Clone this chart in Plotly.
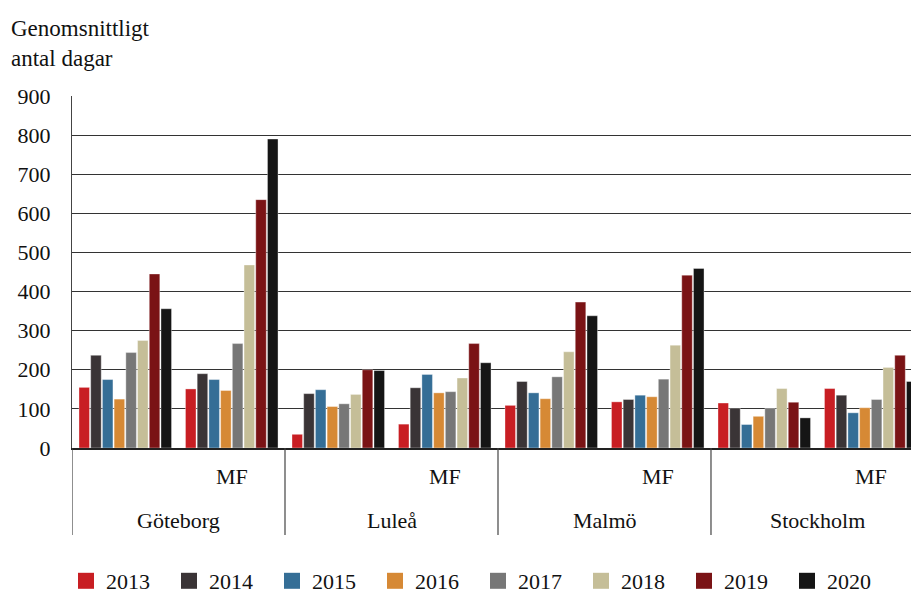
import plotly.graph_objects as go

cities = ["Göteborg", "Luleå", "Malmö", "Stockholm"]
subgroups = ["", "MF"]
years = ["2013", "2014", "2015", "2016", "2017", "2018", "2019", "2020"]
colors = ["#c81e23", "#3a3436", "#356e96", "#d68935", "#777777", "#c5be98", "#7a1315", "#151515"]

# values per year, order: Göteborg, Göteborg MF, Luleå, Luleå MF, Malmö, Malmö MF, Stockholm, Stockholm MF
v2013 = [155, 151, 35, 61, 109, 118, 115, 152]
v2014 = [237, 190, 139, 154, 170, 124, 102, 135]
v2015 = [175, 175, 149, 188, 141, 135, 60, 90]
v2016 = [125, 147, 106, 141, 126, 131, 81, 103]
v2017 = [244, 267, 113, 144, 182, 176, 101, 124]
v2018 = [275, 468, 137, 179, 246, 263, 152, 206]
v2019 = [445, 635, 200, 267, 373, 442, 117, 237]
v2020 = [356, 790, 198, 218, 338, 459, 77, 170]
values = [v2013, v2014, v2015, v2016, v2017, v2018, v2019, v2020]

FONT = "Liberation Serif"
TXT = "#111111"
n_cat = len(cities) * len(subgroups)
xpos = list(range(n_cat))

fig = go.Figure()
for yr, col, vals in zip(years, colors, values):
    fig.add_trace(go.Bar(
        x=xpos, y=vals, name=yr, showlegend=False, legendgroup=yr,
        marker=dict(color=col, line=dict(color="rgba(255,255,255,0.6)", width=0.6)),
    ))
# legend entries with larger square symbols
for yr, col in zip(years, colors):
    fig.add_trace(go.Scatter(
        x=[None], y=[None], mode="markers", name=yr, legendgroup=yr,
        marker=dict(symbol="square", size=16, color=col),
    ))

annotations = []
shapes = []
for i, city in enumerate(cities):
    base = i * len(subgroups)
    for j, sg in enumerate(subgroups):
        if sg:
            annotations.append(dict(x=base + j, y=-(477 - 448) / 352, xref="x", yref="paper",
                                    xanchor="center", yanchor="middle",
                                    text=sg, showarrow=False, font=dict(size=22, family=FONT, color=TXT)))
    annotations.append(dict(x=base + (len(subgroups) - 1) / 2, y=-(520 - 448) / 352, xref="x", yref="paper",
                            xanchor="center", yanchor="middle",
                            text=city, showarrow=False, font=dict(size=22, family=FONT, color=TXT)))
    shapes.append(dict(type="line", xref="x", yref="paper", x0=base - 0.5, x1=base - 0.5,
                       y0=0, y1=-(535 - 448) / 352, line=dict(color="#444", width=1.2)))

annotations.append(dict(x=(9 - 72) / 839, y=1 + (96 - 14) / 352, xref="paper", yref="paper",
                        text="Genomsnittligt<br>antal dagar", showarrow=False,
                        xanchor="left", yanchor="top", align="left",
                        font=dict(size=23, family=FONT, color=TXT)))

fig.update_layout(
    width=911, height=595,
    margin=dict(l=72, r=0, t=96, b=147),
    paper_bgcolor="white", plot_bgcolor="white",
    barmode="group", bargap=0.12, bargroupgap=0.1,
    font=dict(family=FONT, size=22, color=TXT),
    xaxis=dict(range=[-0.5, 7.378], showticklabels=False, showgrid=False, zeroline=False,
               showline=True, linecolor="#222", linewidth=1.5, ticks=""),
    yaxis=dict(range=[0, 900], dtick=100, showgrid=True, gridcolor="#333333", gridwidth=1.3,
               zeroline=False, showline=True, linecolor="#444", linewidth=1.2,
               ticks="outside", ticklen=16, tickcolor="rgba(0,0,0,0)",
               tickfont=dict(size=22, family=FONT, color=TXT)),
    showlegend=True,
    legend=dict(orientation="h", xref="container", yref="container",
                x=66 / 911, y=(595 - 581) / 595, xanchor="left", yanchor="middle",
                font=dict(size=22, family=FONT, color=TXT),
                entrywidth=58, entrywidthmode="pixels", traceorder="normal",
                itemsizing="trace"),
    annotations=annotations,
    shapes=shapes,
)

fig.write_html("out.html", config={"displayModeBar": False},
               post_script="document.body.style.margin='0';document.body.style.overflow='hidden';")
